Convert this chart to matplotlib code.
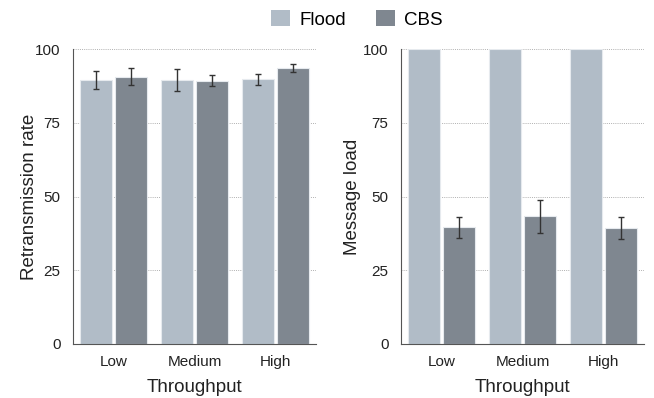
import numpy as np
import matplotlib.pyplot as plt
from matplotlib.patches import Patch

# ==========================
# data
# ==========================
categories = ["Low", "Medium", "High"]

retrans_flood = [89.5, 89.4, 89.8]
retrans_flood_err = [3.0, 3.7, 1.9]
retrans_cbs = [90.6, 89.3, 93.6]
retrans_cbs_err = [2.9, 1.9, 1.5]

load_flood = [100, 100, 100]
load_cbs = [39.5, 43.3, 39.4]
load_cbs_err = [3.4, 5.5, 3.7]

flood_color = "#b1bcc7"
cbs_color = "#7f8790"

plt.rcParams["font.family"] = ["Liberation Sans", "DejaVu Sans"]

fig = plt.figure(figsize=(6.54, 3.98), dpi=100)
ax1 = fig.add_axes([0.1116, 0.1357, 0.3716, 0.741])
ax2 = fig.add_axes([0.6131, 0.1357, 0.3716, 0.741])

x = np.arange(len(categories))
w = 0.395
off = 0.218


def style(ax, ylabel, ypad):
    ax.set_xlim(-0.5, 2.5)
    ax.set_ylim(0, 100)
    ax.set_yticks([0, 25, 50, 75, 100])
    ax.set_xticks(x)
    ax.set_xticklabels(categories)
    ax.tick_params(length=0, labelsize=11, colors="#222222")
    ax.tick_params(axis="y", pad=9)
    ax.tick_params(axis="x", pad=8)
    ax.yaxis.grid(True, linestyle=(0, (1, 1.2)), color="#b0b0b0", linewidth=0.7)
    ax.set_axisbelow(True)
    for s in ["top", "right"]:
        ax.spines[s].set_visible(False)
    for s in ["left", "bottom"]:
        ax.spines[s].set_color("#555555")
        ax.spines[s].set_linewidth(0.8)
    ax.set_xlabel("Throughput", fontsize=13.5, color="#222222", labelpad=7)
    ax.set_ylabel(ylabel, fontsize=13.5, color="#222222", labelpad=ypad)


err_kw = dict(ecolor="#333333", elinewidth=1.0, capsize=2, capthick=1.0)

# 左图
ax1.bar(x - off, retrans_flood, w, color=flood_color, edgecolor="#e6eaee",
        linewidth=0.8, yerr=retrans_flood_err, error_kw=err_kw)
ax1.bar(x + off, retrans_cbs, w, color=cbs_color, edgecolor="#e6eaee",
        linewidth=0.8, yerr=retrans_cbs_err, error_kw=err_kw)
style(ax1, "Retransmission rate", -2)

# 右图
ax2.bar(x - off, load_flood, w, color=flood_color, edgecolor="#e6eaee",
        linewidth=0.8)
ax2.bar(x + off, load_cbs, w, color=cbs_color, edgecolor="#e6eaee",
        linewidth=0.8, yerr=load_cbs_err, error_kw=err_kw)
style(ax2, "Message load", 1.5)

handles = [Patch(facecolor=flood_color, label="Flood"),
           Patch(facecolor=cbs_color, label="CBS")]
fig.legend(handles=handles, loc="center", bbox_to_anchor=(0.546, 0.952),
           ncol=2, frameon=False, fontsize=13.5, handlelength=1.0,
           handleheight=1.0, columnspacing=1.6, handletextpad=0.5)

plt.savefig("out.png", dpi=100)
plt.close()
